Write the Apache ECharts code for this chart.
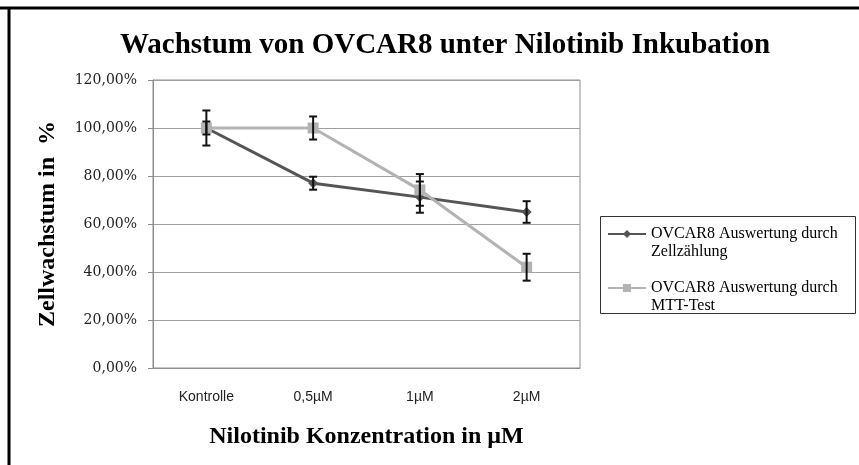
<!DOCTYPE html>
<html>
<head>
<meta charset="utf-8">
<script src="https://cdn.jsdelivr.net/npm/echarts@6/dist/echarts.min.js"></script>
<style>
  html, body { margin: 0; padding: 0; background: #fff; }
  #show { width: 859px; height: 465px; }
</style>
</head>
<body>
<div id="show"></div>
<script>
// Daten
var categories = ['Kontrolle', '0,5µM', '1µM', '2µM'];
var zellzaehlung = [100, 77, 71.2, 65];
var zellzaehlungErr = [7.3, 2.7, 6.5, 4.5];
var mtt = [100, 100, 74.2, 42];
var mttErr = [2.7, 4.8, 6.6, 5.6];
var yTicks = [0, 20, 40, 60, 80, 100, 120];

var serif = '"Liberation Serif", "DejaVu Serif", serif';

function errData(vals, errs) {
  var out = [];
  for (var i = 0; i < vals.length; i++) {
    out.push([i, vals[i] - errs[i], vals[i] + errs[i]]);
  }
  return out;
}

function renderErr(params, api) {
  var x = api.value(0);
  var lo = api.coord([x, api.value(1)]);
  var hi = api.coord([x, api.value(2)]);
  var w = 4;
  var st = { stroke: '#111', lineWidth: 2 };
  return {
    type: 'group',
    children: [
      { type: 'line', shape: { x1: lo[0], y1: lo[1], x2: hi[0], y2: hi[1] }, style: st },
      { type: 'line', shape: { x1: lo[0] - w, y1: lo[1], x2: lo[0] + w, y2: lo[1] }, style: st },
      { type: 'line', shape: { x1: hi[0] - w, y1: hi[1], x2: hi[0] + w, y2: hi[1] }, style: st }
    ]
  };
}

var myChart = echarts.init(document.getElementById('show'));
myChart.setOption({
  animation: false,
  backgroundColor: '#fff',
  title: {
    text: 'Wachstum von OVCAR8 unter Nilotinib Inkubation',
    left: 440,
    textAlign: 'center',
    top: 26,
    textStyle: { fontFamily: serif, fontSize: 29, fontWeight: 'bold', color: '#000' }
  },
  graphic: [
    { type: 'line', shape: { x1: 0, y1: 8, x2: 859, y2: 8 }, style: { stroke: '#000', lineWidth: 3 } },
    { type: 'line', shape: { x1: 9, y1: 8, x2: 9, y2: 465 }, style: { stroke: '#000', lineWidth: 3 } },
    // Rahmen der Legende
    { type: 'rect', shape: { x: 600.5, y: 216.5, width: 255, height: 97 }, style: { fill: null, stroke: '#333', lineWidth: 1 } }
  ],
  legend: {
    orient: 'vertical',
    left: 607,
    top: 207,
    padding: 0,
    itemGap: 0,
    itemWidth: 38,
    itemHeight: 10,
    data: ['OVCAR8 Auswertung durch\nZellzählung', 'OVCAR8 Auswertung durch\nMTT-Test'],
    // leere erste Zeile, damit das Symbol auf Höhe der ersten Textzeile sitzt
    formatter: function (name) { return ' \n' + name; },
    textStyle: { fontFamily: serif, fontSize: 16, color: '#000', lineHeight: 18 }
  },
  grid: {
    left: 153, right: 279, top: 80, bottom: 97,
    show: true, borderColor: '#8c8c8c', borderWidth: 1, containLabel: false
  },
  xAxis: {
    type: 'category',
    data: categories,
    boundaryGap: true,
    name: 'Nilotinib Konzentration in µM',
    nameLocation: 'middle',
    nameGap: 57,
    nameTextStyle: { fontFamily: serif, fontSize: 24, fontWeight: 'bold', color: '#000' },
    axisLine: { lineStyle: { color: '#8c8c8c', width: 1 } },
    axisTick: { show: false },
    axisLabel: { margin: 22, fontFamily: '"Liberation Sans", sans-serif', fontSize: 14, color: '#222' }
  },
  yAxis: {
    type: 'value',
    min: yTicks[0],
    max: yTicks[yTicks.length - 1],
    interval: 20,
    name: 'Zellwachstum in  %',
    nameLocation: 'middle',
    nameGap: 93,
    nameTextStyle: { fontFamily: serif, fontSize: 24, fontWeight: 'bold', color: '#000' },
    axisLine: { show: true, lineStyle: { color: '#8c8c8c', width: 1 } },
    axisTick: { show: true, length: 5, lineStyle: { color: '#8c8c8c' } },
    splitLine: { lineStyle: { color: '#a0a0a0', width: 1 } },
    axisLabel: {
      margin: 16,
      fontFamily: '"DejaVu Serif", serif',
      fontSize: 14,
      color: '#222',
      formatter: function (v) { return v.toFixed(2).replace('.', ',') + '%'; }
    }
  },
  series: [
    {
      name: 'OVCAR8 Auswertung durch\nZellzählung',
      type: 'line',
      data: zellzaehlung,
      symbol: 'diamond',
      symbolSize: 10,
      lineStyle: { color: '#555', width: 3 },
      itemStyle: { color: '#555' },
      z: 3
    },
    {
      name: 'OVCAR8 Auswertung durch\nMTT-Test',
      type: 'line',
      data: mtt,
      symbol: 'rect',
      symbolSize: 11,
      lineStyle: { color: '#b3b3b3', width: 3 },
      itemStyle: { color: '#b3b3b3' },
      z: 4
    },
    {
      type: 'custom',
      renderItem: renderErr,
      data: errData(zellzaehlung, zellzaehlungErr),
      encode: { x: 0, y: [1, 2] },
      z: 5
    },
    {
      type: 'custom',
      renderItem: renderErr,
      data: errData(mtt, mttErr),
      encode: { x: 0, y: [1, 2] },
      z: 5
    }
  ]
});
</script>
</body>
</html>
